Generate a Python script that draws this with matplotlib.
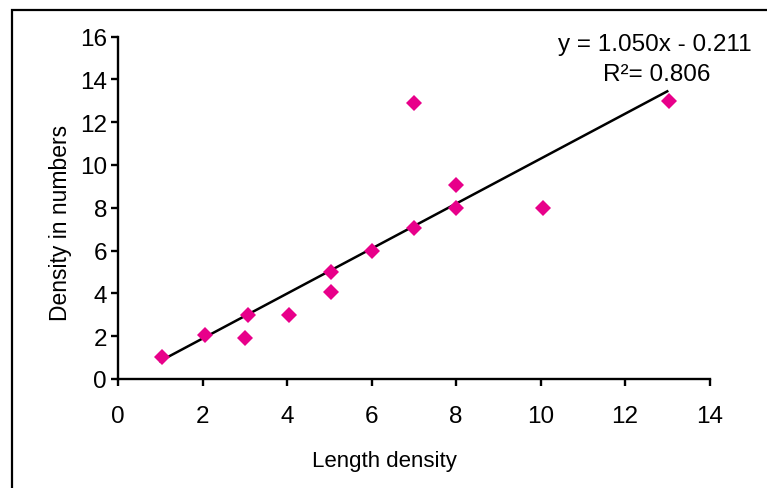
import matplotlib
matplotlib.use("Agg")
import matplotlib.pyplot as plt
from matplotlib.patches import Rectangle
import numpy as np

plt.rcParams['font.family'] = ['Liberation Sans', 'DejaVu Sans']

length_density = [1.05, 2.05, 3, 3.08, 4.05, 5.05, 5.05, 6, 7, 7, 8, 8, 10.05, 13.03]
density_numbers = [1.05, 2.05, 1.9, 3, 3, 4.05, 5, 6, 7.05, 12.9, 8, 9.05, 8, 13]
slope, intercept = 1.050, -0.211
fit_x = [1, 13]
eq_text = "y = 1.050x - 0.211"
r2_text = "R\u00b2= 0.806"
x_ticks = [0, 2, 4, 6, 8, 10, 12, 14]
y_ticks = [0, 2, 4, 6, 8, 10, 12, 14, 16]

W, H = 767, 489
fig = plt.figure(figsize=(W / 100, H / 100), dpi=100)
ax = fig.add_axes([118 / W, 1 - 380 / H, (709.5 - 118) / W, (380 - 37.5) / H])

fx = np.array(fit_x)
ax.plot(fx, slope * fx + intercept, color='black', lw=1.8, zorder=2)
ax.plot(length_density, density_numbers, linestyle='none', marker='D',
        markersize=8, color='#E8008A', markeredgewidth=0, zorder=3)

ax.set_xlim(0, 14)
ax.set_ylim(0, 16)
ax.set_xticks(x_ticks)
ax.set_yticks(y_ticks)
for s in ['top', 'right']:
    ax.spines[s].set_visible(False)
for s in ['left', 'bottom']:
    ax.spines[s].set_linewidth(1.7)
ax.tick_params(axis='x', direction='out', length=5, width=1.7, pad=14, labelsize=17.5)
ax.tick_params(axis='y', direction='out', length=5, width=1.7, pad=3, labelsize=17.5)

fig.text(384 / W, 1 - 462 / H, "Length density", ha='center', va='center', fontsize=16)
fig.text(60 / W, 1 - 222.5 / H, "Density in numbers", ha='center', va='center',
         rotation=90, fontsize=16.5)
fig.text(655 / W, 1 - 45 / H, eq_text, ha='center', va='center', fontsize=17.5)
fig.text(657 / W, 1 - 75 / H, r2_text, ha='center', va='center', fontsize=17.5)

fig.patches.append(Rectangle((11.5 / W, -0.1), 1.2, 1.1 - 10.5 / H,
                             transform=fig.transFigure, fill=False,
                             edgecolor='black', lw=1.6))

fig.savefig("out.png", dpi=100)
